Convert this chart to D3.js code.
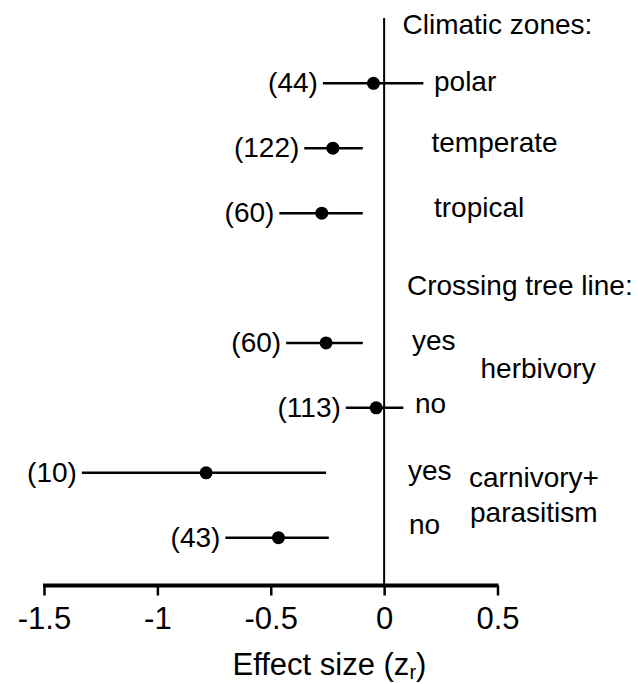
<!DOCTYPE html>
<html>
<head>
<meta charset="utf-8">
<script src="https://cdn.jsdelivr.net/npm/d3@7"></script>
<style>
  html, body { margin: 0; padding: 0; background: #fff; }
  svg { display: block; font-family: "Liberation Sans", Arial, Helvetica, sans-serif; }
</style>
</head>
<body>
<svg id="chart" width="638" height="684"></svg>
<script>
// ---- data ----
const rowLabels = ["polar", "temperate", "tropical", "yes", "no", "yes", "no"];
const rowSlots  = [0, 1, 2, 4, 5, 6, 7];
const sampleSizes = ["(44)", "(122)", "(60)", "(60)", "(113)", "(10)", "(43)"];
const means = [-0.047, -0.226, -0.275, -0.256, -0.035, -0.785, -0.466];
const lows  = [-0.270, -0.352, -0.462, -0.432, -0.169, -1.333, -0.700];
const highs = [ 0.173, -0.094, -0.094, -0.094,  0.085, -0.256, -0.244];
const tickValues = [-1.5, -1, -0.5, 0, 0.5];
const headings = ["Climatic zones:", "Crossing tree line:"];
const groupLabels = ["herbivory", "carnivory+", "parasitism"];

// ---- layout ----
const svg = d3.select("#chart");
const x = d3.scaleLinear().domain([-1.5, 0.5]).range([44, 497.5]);
const y = d3.scalePoint().domain(d3.range(8)).range([83.3, 537.7]);
const axisY = 585.5;
const fs = 28;

const rows = rowLabels.map((l, i) => ({
  label: l, slot: rowSlots[i], n: sampleSizes[i],
  mean: means[i], lo: lows[i], hi: highs[i]
}));

// zero line
svg.append("line")
  .attr("x1", x(0)).attr("x2", x(0))
  .attr("y1", 18).attr("y2", axisY)
  .attr("stroke", "#000").attr("stroke-width", 2);

// error bars
svg.selectAll("line.ci").data(rows).join("line")
  .attr("class", "ci")
  .attr("x1", d => x(d.lo)).attr("x2", d => x(d.hi))
  .attr("y1", d => y(d.slot)).attr("y2", d => y(d.slot))
  .attr("stroke", "#000").attr("stroke-width", 2.5);

// points
svg.selectAll("circle.pt").data(rows).join("circle")
  .attr("class", "pt")
  .attr("cx", d => x(d.mean)).attr("cy", d => y(d.slot))
  .attr("r", 6.5).attr("fill", "#000");

// sample size labels
svg.selectAll("text.n").data(rows).join("text")
  .attr("class", "n")
  .attr("x", d => x(d.lo) - 5)
  .attr("y", d => y(d.slot) + 9)
  .attr("text-anchor", "end")
  .attr("font-size", fs)
  .text(d => d.n);

// row labels (positions relative to row)
const labelDx = [434, 431.5, 434, 412, 415, 408, 409];
const labelDy = [7.3, 3.4, 3.6, 6.6, 5.0, 7.3, -3.7];
svg.selectAll("text.rl").data(rows).join("text")
  .attr("class", "rl")
  .attr("x", (d, i) => labelDx[i])
  .attr("y", (d, i) => y(d.slot) + labelDy[i])
  .attr("font-size", fs)
  .text(d => d.label);

// headings
const headPos = [[402.5, 34.3], [407, 295]];
svg.selectAll("text.hd").data(headings).join("text")
  .attr("class", "hd")
  .attr("x", (d, i) => headPos[i][0])
  .attr("y", (d, i) => headPos[i][1])
  .attr("font-size", fs)
  .text(d => d);

// group labels
const groupPos = [[480.5, 378.3], [469, 486.7], [470, 521.7]];
svg.selectAll("text.gl").data(groupLabels).join("text")
  .attr("class", "gl")
  .attr("x", (d, i) => groupPos[i][0])
  .attr("y", (d, i) => groupPos[i][1])
  .attr("font-size", fs)
  .text(d => d);

// x axis
const axis = d3.axisBottom(x)
  .tickValues(tickValues)
  .tickSize(10)
  .tickPadding(11)
  .tickFormat(d => d3.format("")(d).replace("−", "-"));
const gAxis = svg.append("g")
  .attr("transform", `translate(0,${axisY})`)
  .call(axis);
gAxis.select(".domain")
  .attr("d", `M${x(-1.5) - 1},0H${x(0.5) + 1}`)
  .attr("stroke", "#000").attr("stroke-width", 4);
gAxis.selectAll(".tick line").attr("stroke", "#000").attr("stroke-width", 2.5);
gAxis.selectAll(".tick text")
  .attr("fill", "#000")
  .attr("font-size", 31)
  .attr("font-family", "Liberation Sans, Arial, sans-serif");

// axis title
const title = svg.append("text")
  .attr("x", 232.5).attr("y", 675)
  .attr("font-size", 31);
title.append("tspan").text("Effect size (z");
title.append("tspan").attr("font-size", 20).attr("dy", 4).text("r");
title.append("tspan").attr("dy", -4).text(")");
</script>
</body>
</html>
